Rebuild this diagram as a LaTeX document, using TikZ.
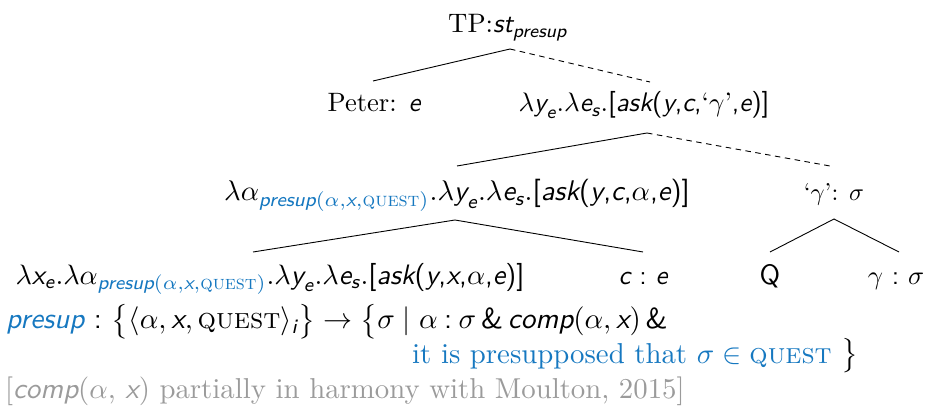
\documentclass[tikz,border=0pt]{standalone}
\usepackage{graphicx}
\usepackage{amsmath,amssymb}
\definecolor{pblue}{RGB}{22,120,192}
\definecolor{pgray}{RGB}{155,155,155}
\newcommand{\sv}[1]{\text{\normalfont\sffamily\itshape #1}}
\newcommand{\sr}[1]{\text{\normalfont\sffamily #1}}
\newcommand{\qsc}{\text{\normalfont\scshape quest}}
\newcommand{\psub}{{\color{pblue}\sv{presup}(\alpha,\sv{x},\qsc)}}
\newcommand{\askf}[4]{\sr{[}\sv{ask}\sr{(}#1\sr{,}#2\sr{,}#3\sr{,}#4\sr{)]}}
\newcommand{\bx}[2][3.0]{\scalebox{#1}{#2}}
\begin{document}
\begin{tikzpicture}[x=1pt,y=-1pt,
  lab/.style={font=\fontsize{10}{12}\selectfont, inner sep=0pt, anchor=base},
  labw/.style={lab, anchor=base west},
  edge/.style={line width=0.9pt},
  dedge/.style={line width=0.9pt, dash pattern=on 5.5pt off 4.5pt}]
\useasboundingbox (0,0) rectangle (927,406);
% nodes
\node[lab] (tp) at (508,33) {\bx[2.67]{TP:$\sv{st}_{\sv{presup}}$}};
\node[lab] (peter) at (374,112) {\bx[2.66]{Peter: $\sv{e}$}};
\node[lab] (lyc) at (644,112) {\bx[2.68]{$\lambda\sv{y}_{\sv{e}}.\lambda\sv{e}_{\sv{s}}.\askf{\sv{y}}{\sv{c}}{\text{`}\gamma\text{'}}{\sv{e}}$}};
\node[lab] (la) at (457,201) {\bx[2.84]{$\lambda\alpha_{\psub}.\lambda\sv{y}_{\sv{e}}.\lambda\sv{e}_{\sv{s}}.\askf{\sv{y}}{\sv{c}}{\alpha}{\sv{e}}$}};
\node[lab] (gq) at (834,201) {\bx[2.45]{`$\gamma$': $\sigma$}};
\node[lab] (lx) at (270,284) {\bx[2.81]{$\lambda\sv{x}_{\sv{e}}.\lambda\alpha_{\psub}.\lambda\sv{y}_{\sv{e}}.\lambda\sv{e}_{\sv{s}}.\askf{\sv{y}}{\sv{x}}{\alpha}{\sv{e}}$}};
\node[lab] (ce) at (643,284) {\bx[2.67]{\sv{c} \sr{:} \sv{e}}};
\node[lab] (q) at (770,284) {\bx[2.8]{\sr{Q}}};
\node[lab] (gs) at (896,284) {\bx[2.65]{$\gamma$ \sr{:} $\sigma$}};
\node[labw] (pl) at (6,329) {\bx[2.9]{{\color{pblue}\sv{presup}} \sr{:} $\bigl\{\langle\alpha, \sv{x}, \qsc\rangle_{\sv{i}}\bigr\} \rightarrow \bigl\{\sigma \mid \alpha \mathbin{\sr{:}} \sigma\,\sr{\&}\,\sv{comp}(\alpha,\sv{x})\,\sr{\&}$}};
\node[labw] (pl2) at (412,363) {\bx[2.88]{{\color{pblue}it is presupposed that $\sigma \in \qsc$} $\bigr\}$}};
\node[labw] (gr) at (5,398) {\bx[2.88]{\color{pgray}[\sv{comp}($\alpha$, \sv{x}) partially in harmony with Moulton, 2015]}};
% connector points
\coordinate (tpA) at (510,49);
\coordinate (peterT) at (373,81);
\coordinate (lycT) at (650,82);
\coordinate (lycA) at (647,133);
\coordinate (laT) at (457,166);
\coordinate (gqT) at (830,166);
\coordinate (laA) at (455,220);
\coordinate (lxT) at (253,252);
\coordinate (ceT) at (643,252);
\coordinate (gqA) at (834,219);
\coordinate (qT) at (770,252);
\coordinate (gsT) at (899,252);
% connectors
\draw[edge] (peterT) -- (tpA);
\draw[dedge] (tpA) -- (lycT);
\draw[edge] (laT) -- (lycA);
\draw[dedge] (lycA) -- (gqT);
\draw[edge] (lxT) -- (laA) -- (ceT);
\draw[edge] (qT) -- (gqA) -- (gsT);
\end{tikzpicture}
\end{document}
